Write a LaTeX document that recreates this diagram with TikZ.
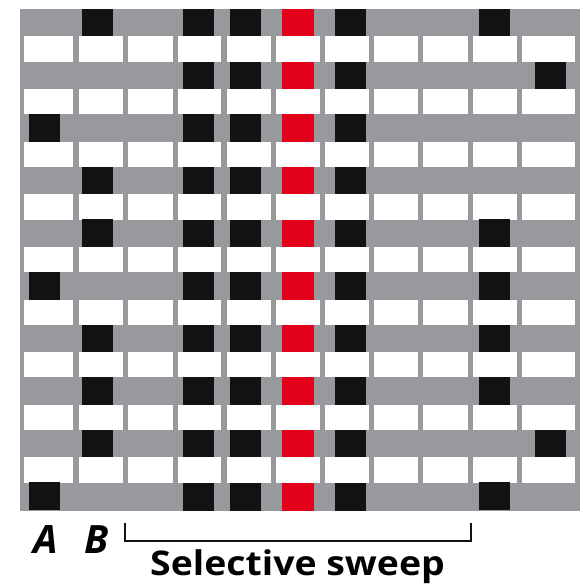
\documentclass[tikz,border=0pt]{standalone}
\usepackage{fontspec}
\setsansfont{Open Sans}
\newfontfamily\widesans[FakeStretch=1.1]{Open Sans}
\definecolor{bandgray}{RGB}{152,153,157}
\definecolor{sweepred}{RGB}{226,0,26}
\definecolor{snpblack}{RGB}{18,18,18}
\tikzset{
  whitecell/.style={fill=white},
  snpcell/.style={fill=snpblack},
  redcell/.style={fill=sweepred},
  letter/.style={font=\sffamily\bfseries\itshape\fontsize{39}{39}\selectfont, anchor=base},
  caption/.style={font=\widesans\bfseries\fontsize{34}{34}\selectfont, anchor=base}
}
\begin{document}
\begin{tikzpicture}[x=1pt, y=-1pt]
    \useasboundingbox (0,0) rectangle (582,588);

    % Gray background of the chromosomes
    \fill[bandgray] (20,9) rectangle (580,511);

    % Fixed sites inside the sweep (every chromosome)
    \fill[snpcell] (183,9) rectangle (214,511);
    \fill[snpcell] (230,9) rectangle (261,511);
    \fill[redcell] (282,9) rectangle (314,511);
    \fill[snpcell] (335,9) rectangle (366,511);

    % White spacer rows
    \foreach \r in {0,...,8} {
      \foreach \xl/\xr in {24/73,79/123,128/173,178/221,227/271,276/320,
                           325/369,374/418,423/468,473/517,522/575}
        \fill[whitecell] (\xl,36.5+52.6*\r) rectangle (\xr,61.8+52.6*\r);
    }

    % Variable sites, row by row
    \foreach \r/\xs in {0/{82,479}, 1/{535}, 2/{29}, 3/{82}, 4/{82,479},
                        5/{29,479}, 6/{82,479}, 7/{82,479}, 8/{82,535},
                        9/{29,479}} {
      \foreach \xl in \xs
        \fill[snpcell] (\xl,9+52.6*\r) rectangle (\xl+31,36.5+52.6*\r);
    }

    % Labels
    \node[letter] (labelA) at (46,553) {A};
    \node[letter] (labelB) at (97,553) {B};

    % Sweep bracket
    \coordinate (bl) at (125,523);
    \coordinate (br) at (471,523);
    \draw[line width=2pt, snpblack] (bl) -- ++(0,18) -| (br);
    \node[caption] (sweep) at (297.5,575) {Selective sweep};
\end{tikzpicture}
\end{document}
